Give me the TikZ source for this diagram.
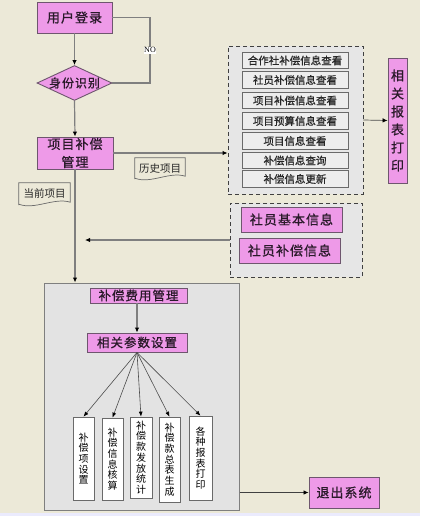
\documentclass[tikz,border=0pt]{standalone}
\usepackage{fontspec}
\setmainfont{Liberation Serif}
\newfontfamily\cjk{Noto Sans CJK SC}
\newfontfamily\cjkm[FakeBold=0.7]{Noto Sans CJK SC}
\newfontfamily\cjkw[LetterSpace=8,FakeBold=0.9]{Noto Sans CJK SC}
\newfontfamily\cjkv[FakeBold=0.9]{Noto Sans CJK SC}
\usetikzlibrary{shapes.geometric,arrows.meta}
\definecolor{bg}{HTML}{ECE9D8}
\definecolor{pinkfill}{HTML}{EE9AE8}
\definecolor{pinkline}{HTML}{6E566E}
\definecolor{pinktext}{HTML}{2A1A2A}
\definecolor{panel}{HTML}{E6E6E6}
\definecolor{itemfill}{HTML}{EDEDED}
\definecolor{itemline}{HTML}{6A6A6A}
\definecolor{lineg}{HTML}{7F7F7F}
\newcommand\docwave[1]{%
  \draw[draw=itemline,line width=0.7pt] (#1.south west) -- (#1.north west) -- (#1.north east) -- ([yshift=3pt]#1.south east)
    .. controls +(-16pt,5pt) and +(16pt,-6pt) .. ([yshift=1pt]#1.south west) -- cycle;}
\begin{document}
\begin{tikzpicture}[x=1pt,y=-1pt,
  pinkbox/.style={draw=pinkline, fill=pinkfill, line width=0.9pt, inner sep=0pt, text=pinktext,
    font=\cjkw\fontsize{13}{16}\selectfont},
  itembox/.style={draw=itemline, fill=itemfill, line width=0.8pt, inner sep=0pt,
    minimum width=106pt, minimum height=16.5pt, text=black!85,
    font=\cjkm\fontsize{10.5}{12}\selectfont},
  whitebox/.style={draw=itemline, fill=white, line width=0.7pt, inner sep=0pt, align=center,
    font=\cjk\fontsize{10}{10.7}\selectfont},
  panelbox/.style={draw=black!75, fill=panel, dashed, dash pattern=on 4pt off 3pt, line width=0.9pt, inner sep=0pt},
  docnode/.style={inner sep=0pt, font=\cjk\fontsize{10.5}{12}\selectfont, text=black!85},
  flow/.style={draw=lineg, line width=1.2pt},
  tip/.style={-{Latex[length=5pt,width=4.5pt,color=black]}},
  fan/.style={draw=black!70, line width=0.6pt, -{Latex[length=5pt,width=4pt,color=black]}}
]
\useasboundingbox (0,0) rectangle (420,516);
\fill[bg] (0,0) rectangle (420,516);
\fill[fill=black!12!blue!8] (0,513) rectangle (420,516);

% top flow
\node[pinkbox, minimum width=75pt, minimum height=31pt] (login) at (74.5,17.5) {用户登录};
\node[pinkbox, shape=diamond, aspect=2.14, minimum width=75pt, minimum height=35pt,
  font=\cjkw\fontsize{12}{14}\selectfont] (diam) at (74.5,83) {身份识别};
\node[pinkbox, minimum width=76pt, minimum height=32pt, align=center,
  font=\cjkw\fontsize{13}{18}\selectfont] (proj) at (75,153) {项目补偿\\管理};

\draw[flow,tip] (login.south) -- (diam.north);
\coordinate (nocorner) at (150,17.5);
\draw[flow] (login.east) -- (nocorner) |- (diam.east)
  node[pos=0.25, fill=white, inner sep=0.6pt, text=black, font=\fontsize{8}{9}\selectfont] {NO};
\draw[flow,tip] (diam.south) -- (proj.north);

% group 1
\node[panelbox, minimum width=135pt, minimum height=148pt] (g1) at (295.5,120) {};
\node[itembox] (i1) at (295,60.5) {合作社补偿信息查看};
\node[itembox] (i2) at (295,80) {社员补偿信息查看};
\node[itembox] (i3) at (295,100.5) {项目补偿信息查看};
\node[itembox] (i4) at (295,121) {项目预算信息查看};
\node[itembox] (i5) at (295,141) {项目信息查看};
\node[itembox] (i6) at (295,160.5) {补偿信息查询};
\node[itembox] (i7) at (295,179) {补偿信息更新};

\node[pinkbox, minimum width=19pt, minimum height=125pt, align=center,
  font=\cjkv\fontsize{13}{18}\selectfont] (print) at (397.5,120.5) {相\\关\\报\\表\\打\\印};
\draw[draw=black!70, line width=0.7pt, tip] (g1.east) -- (print.west);

\draw[flow,tip] (proj.east) -- (g1.west |- proj.east);

% doc labels
\node[docnode, minimum width=50pt, minimum height=21pt] (hist) at (160,168.5) {\raisebox{1pt}{历史项目}};
\docwave{hist}
\node[docnode, minimum width=51pt, minimum height=22pt] (cur) at (44.5,194) {\raisebox{1pt}{当前项目}};
\docwave{cur}

% group 2
\node[panelbox, minimum width=132pt, minimum height=74pt] (g2) at (296,240) {};
\node[pinkbox, minimum width=101pt, minimum height=25pt] (s1) at (291.5,219.5) {社员基本信息};
\node[pinkbox, minimum width=101pt, minimum height=25pt] (s2) at (289.5,250.5) {社员补偿信息};
\coordinate (g2end) at (85,240);
\draw[flow,tip] (g2.west) -- (g2end);

% main panel
\node[draw=lineg, fill=black!11, line width=1pt, minimum width=195pt, minimum height=227pt, inner sep=0pt]
  (main) at (141.5,396.5) {};
\draw[flow,tip] (proj.south) -- (proj.south |- main.north);

\node[pinkbox, minimum width=97pt, minimum height=15pt, font=\cjkw\fontsize{12.5}{14}\selectfont]
  (m1) at (138.5,295.5) {补偿费用管理};
\node[pinkbox, minimum width=100pt, minimum height=19pt, font=\cjkw\fontsize{12.5}{14}\selectfont]
  (m2) at (137,342.5) {相关参数设置};
\draw[flow,tip] (m1.south -| m2.north) -- (m2.north);

\node[whitebox, minimum width=21pt, minimum height=83pt] (w1) at (83.5,458.5) {补\\偿\\项\\设\\置};
\node[whitebox, minimum width=21pt, minimum height=82pt] (w2) at (112.5,459) {补\\偿\\信\\息\\核\\算};
\node[whitebox, minimum width=22pt, minimum height=81pt] (w3) at (141,457.5) {补\\偿\\款\\发\\放\\统\\计};
\node[whitebox, minimum width=21pt, minimum height=85pt] (w4) at (169.5,459.5) {补\\偿\\款\\总\\表\\生\\成};
\node[whitebox, minimum width=23pt, minimum height=84pt] (w5) at (200.5,458) {各\\种\\报\\表\\打\\印};
\foreach \w in {w1,w2,w3,w4,w5} { \draw[fan] (m2.south) -- (\w.north); }

\node[pinkbox, minimum width=70pt, minimum height=31pt] (exit) at (344,492.5) {退出系统};
\draw[draw=black!75, line width=0.8pt, tip] (main.east |- exit.west) -- (exit.west);
\end{tikzpicture}
\end{document}
